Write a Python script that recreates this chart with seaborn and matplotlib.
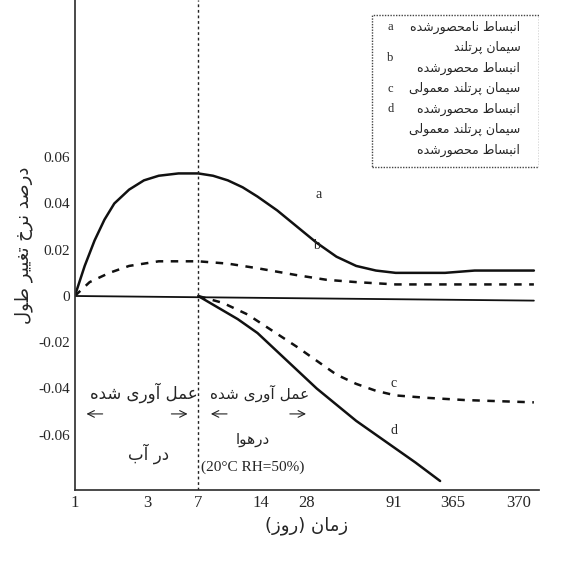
import matplotlib
matplotlib.use("Agg")
import matplotlib.pyplot as plt
import seaborn as sns
import pandas as pd
from matplotlib.patches import Rectangle

sns.set_theme(style="white")
plt.rcParams['font.family'] = ['Liberation Serif', 'DejaVu Sans']

# ---- data (x in chart position units; ticks mark the day scale) ----
tick_pos = [75, 148, 200, 263, 310, 398, 458, 525]
tick_labels = ["1", "3", "7", "14", "28", "91", "365", "370"]

a_x = [75, 85, 95, 105, 115, 130, 145, 160, 180, 200, 215, 230, 245, 260, 280, 300, 320, 340, 360, 380, 400, 420, 450, 480, 510, 540]
a_y = [0, 0.013, 0.024, 0.033, 0.040, 0.046, 0.050, 0.052, 0.053, 0.053, 0.052, 0.050, 0.047, 0.043, 0.037, 0.030, 0.023, 0.017, 0.013, 0.011, 0.010, 0.010, 0.010, 0.011, 0.011, 0.011]
b_x = [75, 90, 110, 130, 160, 200, 230, 260, 300, 330, 360, 400, 450, 540]
b_y = [0, 0.006, 0.010, 0.013, 0.015, 0.015, 0.014, 0.012, 0.009, 0.007, 0.006, 0.005, 0.005, 0.005]
z_x = [75, 540]
z_y = [0, -0.002]
c_x = [200, 225, 250, 275, 300, 320, 340, 360, 380, 400, 430, 470, 540]
c_y = [0, -0.003, -0.008, -0.015, -0.022, -0.028, -0.034, -0.038, -0.041, -0.043, -0.044, -0.045, -0.046]
d_x = [200, 220, 240, 260, 280, 300, 320, 340, 360, 380, 400, 420, 445]
d_y = [0, -0.005, -0.010, -0.016, -0.024, -0.032, -0.040, -0.047, -0.054, -0.060, -0.066, -0.072, -0.080]
y_ticks = [0.06, 0.04, 0.02, 0, -0.02, -0.04, -0.06]
y_tick_labels = ["0.06", "0.04", "0.02", "0", "-0.02", "-0.04", "-0.06"]

# ---- minimal Persian shaping ----
FORMS = {
    'آ': (0xFE81, 0xFE82, None, None), 'ا': (0xFE8D, 0xFE8E, None, None),
    'ب': (0xFE8F, 0xFE90, 0xFE91, 0xFE92), 'پ': (0xFB56, 0xFB57, 0xFB58, 0xFB59),
    'ت': (0xFE95, 0xFE96, 0xFE97, 0xFE98), 'ح': (0xFEA1, 0xFEA2, 0xFEA3, 0xFEA4),
    'خ': (0xFEA5, 0xFEA6, 0xFEA7, 0xFEA8), 'د': (0xFEA9, 0xFEAA, None, None),
    'ر': (0xFEAD, 0xFEAE, None, None), 'ز': (0xFEAF, 0xFEB0, None, None),
    'س': (0xFEB1, 0xFEB2, 0xFEB3, 0xFEB4), 'ش': (0xFEB5, 0xFEB6, 0xFEB7, 0xFEB8),
    'ص': (0xFEB9, 0xFEBA, 0xFEBB, 0xFEBC), 'ط': (0xFEC1, 0xFEC2, 0xFEC3, 0xFEC4),
    'ع': (0xFEC9, 0xFECA, 0xFECB, 0xFECC), 'غ': (0xFECD, 0xFECE, 0xFECF, 0xFED0),
    'ل': (0xFEDD, 0xFEDE, 0xFEDF, 0xFEE0), 'م': (0xFEE1, 0xFEE2, 0xFEE3, 0xFEE4),
    'ن': (0xFEE5, 0xFEE6, 0xFEE7, 0xFEE8), 'ه': (0xFEE9, 0xFEEA, 0xFEEB, 0xFEEC),
    'و': (0xFEED, 0xFEEE, None, None), 'ی': (0xFBFC, 0xFBFD, 0xFBFE, 0xFBFF),
}
MIRROR = {'(': ')', ')': '('}

def fa(s):
    out = []
    for i, ch in enumerate(s):
        if ch not in FORMS:
            out.append(MIRROR.get(ch, ch))
            continue
        iso, fin, ini, med = FORMS[ch]
        prev = s[i - 1] if i > 0 else ''
        nxt = s[i + 1] if i + 1 < len(s) else ''
        pj = prev in FORMS and FORMS[prev][2] is not None
        nj = ini is not None and nxt in FORMS
        if pj and nj:
            f = med
        elif pj:
            f = fin
        elif nj:
            f = ini
        else:
            f = iso
        out.append(chr(f))
    return ''.join(reversed(out))

FA = ['DejaVu Sans', 'Noto Sans']

fig = plt.figure(figsize=(5.8, 5.85), dpi=100)
ax = fig.add_axes([0.129, 0.162, 0.80, 0.838])

df = pd.concat([
    pd.DataFrame({'x': a_x, 'y': a_y, 's': 'a'}),
    pd.DataFrame({'x': b_x, 'y': b_y, 's': 'b'}),
    pd.DataFrame({'x': z_x, 'y': z_y, 's': 'z'}),
    pd.DataFrame({'x': c_x, 'y': c_y, 's': 'c'}),
    pd.DataFrame({'x': d_x, 'y': d_y, 's': 'd'}),
])
styles = {'a': '-', 'b': (0, (3, 3)), 'z': '-', 'c': (0, (3, 3)), 'd': '-'}
for s, g in df.groupby('s'):
    sns.lineplot(data=g, x='x', y='y', ax=ax, color='#111111',
                 lw=1.8 if s != 'z' else 1.3, linestyle=styles[s], legend=False)

ax.axvline(200, color='#222222', lw=1, linestyle=(0, (2, 2)))
ax.set_xlim(75, 545)
ax.set_ylim(-0.084, 0.128)
ax.set_xticks(tick_pos)
ax.set_xticklabels(tick_labels, fontsize=12)
ax.set_yticks(y_ticks)
ax.set_yticklabels(y_tick_labels, fontsize=11)
ax.tick_params(axis='both', direction='in', length=3, color='#333333')
for sp in ['top', 'right']:
    ax.spines[sp].set_visible(False)
for sp in ['left', 'bottom']:
    ax.spines[sp].set_color('#333333')
ax.set_xlabel(fa('زمان (روز)'), fontsize=13, family=FA)
ax.set_ylabel(fa('درصد نرخ تغییر طول'), fontsize=13, family=FA)

for lab, x, y in [('a', 322, 0.044), ('b', 320, 0.022), ('c', 398, -0.038), ('d', 398, -0.058)]:
    ax.text(x, y, lab, fontsize=10, ha='center', va='center')

# curing annotations
ax.text(145, -0.042, fa('عمل آوری شده'), fontsize=12, family=FA, ha='center', va='center')
ax.text(150, -0.068, fa('در آب'), fontsize=12, family=FA, ha='center', va='center')
ax.text(262, -0.042, fa('عمل آوری شده'), fontsize=11, family=FA, ha='center', va='center')
ax.text(255, -0.062, fa('درهوا'), fontsize=11, family=FA, ha='center', va='center')
ax.text(255, -0.074, '(20°C RH=50%)', fontsize=11, ha='center', va='center')
arr = dict(arrowstyle='->', lw=0.8, color='#222222')
for x0, x1 in [(106, 84), (170, 192), (232, 210), (290, 312)]:
    ax.annotate('', xy=(x1, -0.051), xytext=(x0, -0.051), arrowprops=arr)

# legend box
ax.add_patch(Rectangle((0.64, 0.66), 0.36, 0.31, transform=ax.transAxes,
                       fill=False, ec='#444444', lw=1, linestyle=(0, (1, 1))))
rows = [('a', fa('انبساط نامحصورشده')), ('', fa('سیمان پرتلند')),
        ('b', fa('انبساط محصورشده')), ('c', fa('سیمان پرتلند معمولی')),
        ('d', fa('انبساط محصورشده')), ('', fa('سیمان پرتلند معمولی')),
        ('', fa('انبساط محصورشده'))]
for i, (k, t) in enumerate(rows):
    yy = 0.945 - i * 0.042
    if k:
        ax.text(0.68, yy + (0.02 if k == 'b' else 0), k, transform=ax.transAxes,
                fontsize=9, ha='center', va='center')
    ax.text(0.96, yy, t, transform=ax.transAxes, fontsize=9, family=FA,
            ha='right', va='center')

fig.savefig('out.png', dpi=100, facecolor='white')
